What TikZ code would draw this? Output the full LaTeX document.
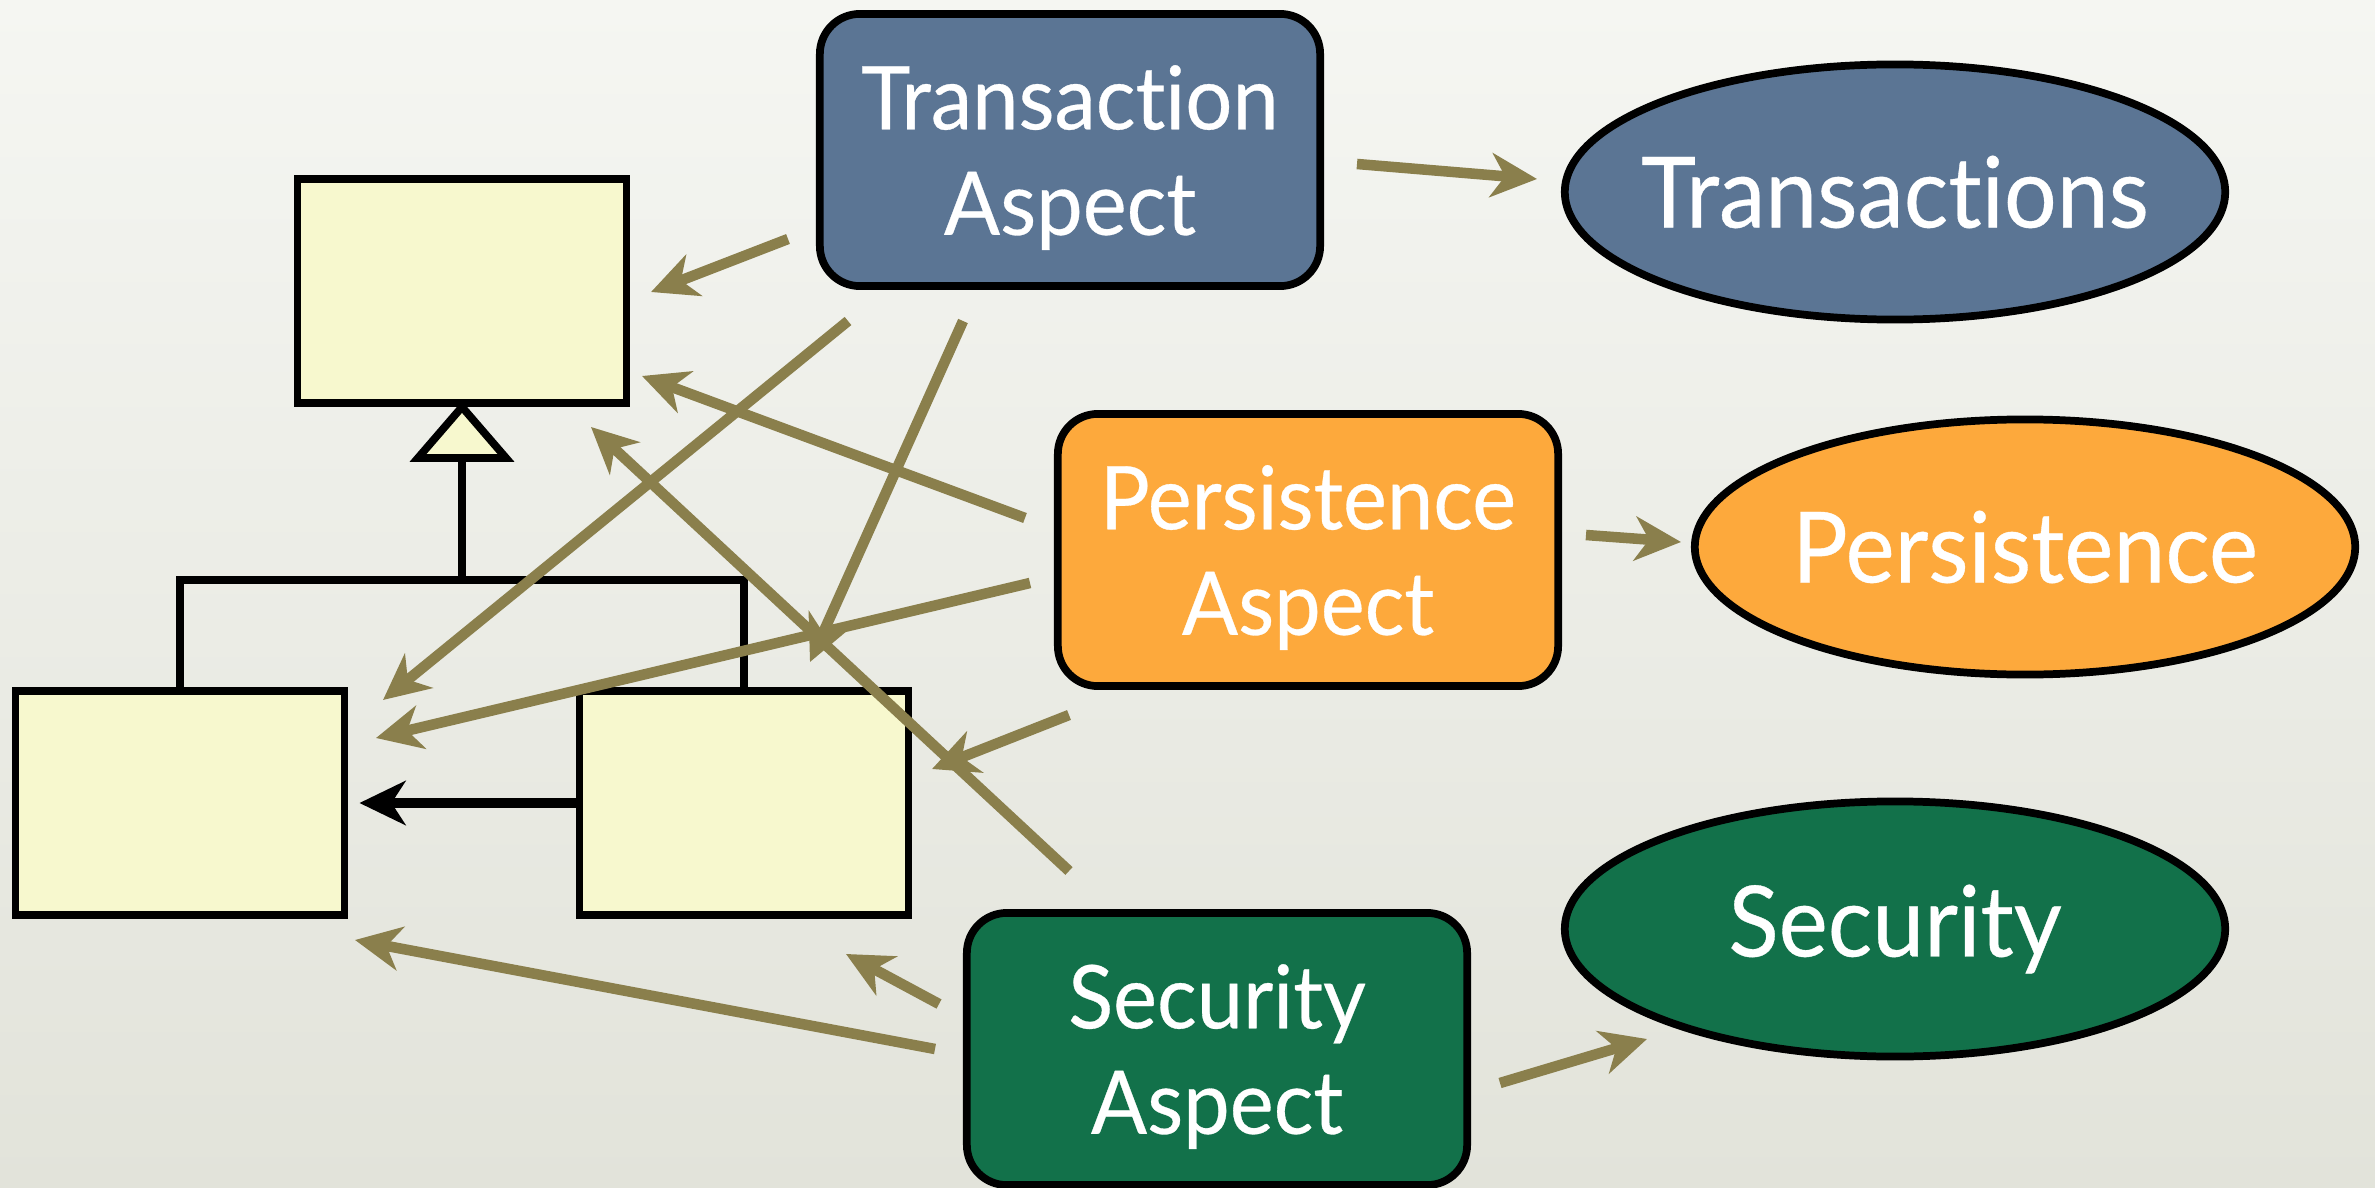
\documentclass[tikz,border=0pt]{standalone}
\usepackage{fontspec}
\setmainfont{Lato}[FakeStretch=0.945, FakeBold=0.35, Ligatures=NoCommon]
\usetikzlibrary{shapes.geometric,arrows.meta,calc}
\definecolor{bgtop}{HTML}{F5F6F2}
\definecolor{bgbot}{HTML}{E2E3DA}
\definecolor{classfill}{HTML}{F7F8CE}
\definecolor{olive}{HTML}{8A7F4C}
\definecolor{txblue}{HTML}{5B7594}
\definecolor{psorange}{HTML}{FDA93C}
\definecolor{scgreen}{HTML}{12714A}
\tikzset{
  classbox/.style={draw=black, line width=2.2pt, fill=classfill,
    minimum width=3.29cm, minimum height=2.24cm, inner sep=0pt},
  aspect/.style={draw=black, line width=2.2pt, rounded corners=0.4cm,
    minimum width=5.0cm, minimum height=2.72cm, inner sep=0pt,
    text depth=0pt, text=white, align=center,
    font=\fontsize{25}{30}\selectfont},
  concern/.style={ellipse, draw=black, line width=2.2pt,
    minimum width=6.6cm, minimum height=2.55cm,
    inner xsep=-1.5cm, inner ysep=-0.6cm,
    text=white, font=\fontsize{28}{32}\selectfont},
  tip/.style={-{Stealth[length=0.46cm,width=0.44cm,inset=0.14cm]}},
  weave/.style={draw=olive, line width=3pt, tip},
  uml/.style={draw=black, line width=2.2pt},
}
\begin{document}
\begin{tikzpicture}[x=0.01cm,y=-0.01cm]
  % background
  \shade[top color=bgtop, bottom color=bgbot] (0,0) rectangle (2375,1188);
  \useasboundingbox (0,0) rectangle (2375,1188);

  % class hierarchy
  \node[classbox] (cls)  at (462,291) {};
  \node[classbox] (sub1) at (180,803) {};
  \node[classbox] (sub2) at (744,803) {};

  % generalization
  \draw[uml, fill=classfill, line join=miter] (cls.south) -- ++(-44,51) -- ++(88,0) -- cycle;
  \coordinate (tri) at ($(cls.south)+(0,51)$);
  \coordinate (bar) at (462,580);
  \draw[uml] (tri) -- (bar);
  \draw[uml] (sub1.north) |- (bar) -| (sub2.north);

  % association
  \draw[uml, line width=3pt, shorten >=0.11cm, tip] (sub2.west) -- (sub1.east);

  % aspects
  \node[aspect, fill=txblue]   (ta) at (1070,150)  {Transaction\\Aspect};
  \node[aspect, fill=psorange] (pa) at (1308,550)  {Persistence\\Aspect};
  \node[aspect, fill=scgreen]  (sa) at (1217,1049) {Security\\Aspect};

  % concerns
  \node[concern, fill=txblue]   (tc) at (1895,192) {Transactions};
  \node[concern, fill=psorange] (pc) at (2025,547) {Persistence};
  \node[concern, fill=scgreen]  (sc) at (1895,929) {Security};

  % connector ends
  \coordinate (ta1) at (788,239);   \coordinate (cls1) at (651,292);
  \coordinate (ta2) at (848,321);   \coordinate (s1a)  at (383,700);
  \coordinate (ta3) at (963,321);   \coordinate (s2a)  at (810,662);
  \coordinate (ta4) at (1357,164);  \coordinate (tc1)  at (1537,179);
  \coordinate (pa1) at (1025,518);  \coordinate (cls2) at (642,376);
  \coordinate (pa2) at (1030,583);  \coordinate (s1b)  at (376,738);
  \coordinate (pa3) at (1069,715);  \coordinate (s2b)  at (932,769);
  \coordinate (pa4) at (1586,535);  \coordinate (pc1)  at (1681,542);
  \coordinate (sa1) at (1069,871);  \coordinate (cls3) at (591,427);
  \coordinate (sa2) at (935,1049);  \coordinate (s1c)  at (355,940);
  \coordinate (sa3) at (939,1004);  \coordinate (s2c)  at (846,954);
  \coordinate (sa4) at (1500,1083); \coordinate (sc1)  at (1647,1039);

  % weaving
  \draw[weave] (ta1) -- (cls1);
  \draw[weave] (ta2) -- (s1a);
  \draw[weave] (ta3) -- (s2a);
  \draw[weave] (ta4) -- (tc1);
  \draw[weave] (pa1) -- (cls2);
  \draw[weave] (pa2) -- (s1b);
  \draw[weave] (pa3) -- (s2b);
  \draw[weave] (pa4) -- (pc1);
  \draw[weave] (sa1) -- (cls3);
  \draw[weave] (sa2) -- (s1c);
  \draw[weave] (sa3) -- (s2c);
  \draw[weave] (sa4) -- (sc1);
\end{tikzpicture}
\end{document}
